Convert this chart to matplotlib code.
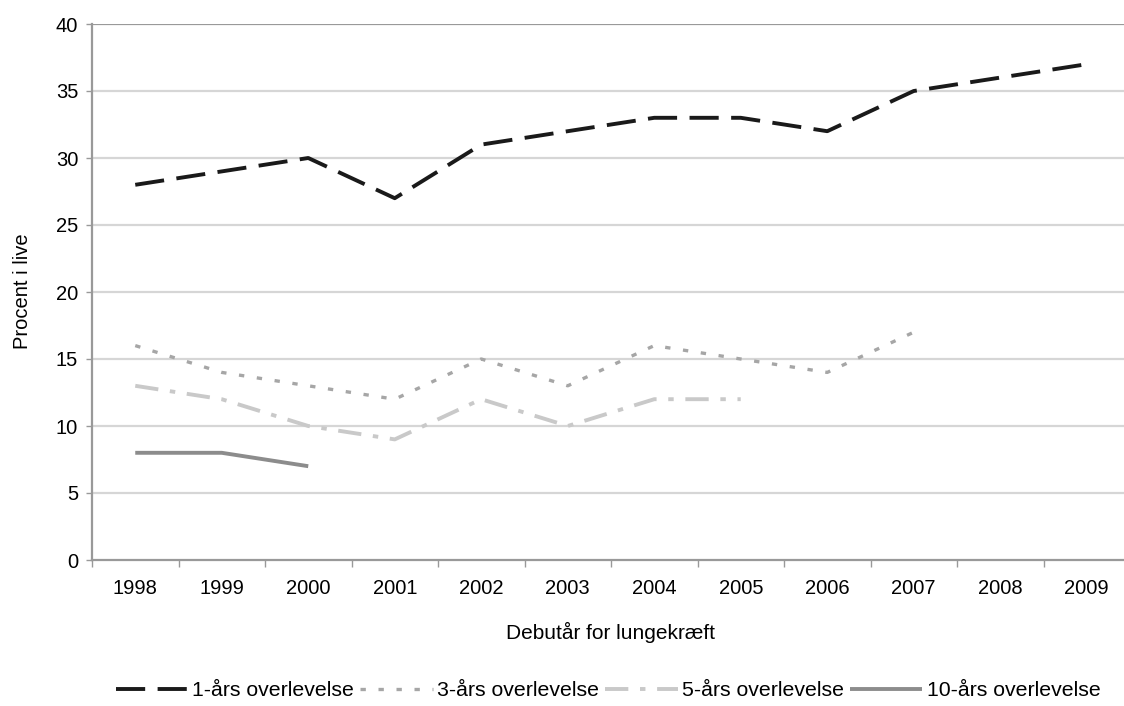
import matplotlib
matplotlib.use("Agg")
import matplotlib.pyplot as plt

plt.rcParams['font.family'] = ['Liberation Sans', 'DejaVu Sans']

years = ['1998', '1999', '2000', '2001', '2002', '2003', '2004', '2005',
         '2006', '2007', '2008', '2009']
surv_1 = [28, 29, 30, 27, 31, 32, 33, 33, 32, 35, 36, 37]
surv_3 = [16, 14, 13, 12, 15, 13, 16, 15, 14, 17]
surv_5 = [13, 12, 10, 9, 12, 10, 12, 12]
surv_10 = [8, 8, 7]
labels = ['1-års overlevelse', '3-års overlevelse', '5-års overlevelse',
          '10-års overlevelse']
y_ticks = [0, 5, 10, 15, 20, 25, 30, 35, 40]

W, H = 1124, 706
fig = plt.figure(figsize=(W / 100, H / 100), dpi=100)
left, right, top, bottom = 92, 1130, 24, 560
ax = fig.add_axes([left / W, 1 - bottom / H, (right - left) / W, (bottom - top) / H])

x = list(range(len(years)))
styles = [
    dict(color='#1a1a1a', lw=2.8, dashes=(7.5, 3.2)),
    dict(color='#a6a6a6', lw=2.4, dashes=(1.6, 3.8)),
    dict(color='#c9c9c9', lw=2.8, dashes=(6, 3, 1.4, 3)),
    dict(color='#8c8c8c', lw=2.8, linestyle='-'),
]
series = [surv_1, surv_3, surv_5, surv_10]
handles = []
for vals, st, lab in zip(series, styles, labels):
    ln, = ax.plot(x[:len(vals)], vals, solid_capstyle='butt',
                  dash_capstyle='butt', label=lab, **st)
    handles.append(ln)

ax.set_xlim(-0.5, len(years) - 0.5)
ax.set_ylim(0, 40)
ax.set_yticks(y_ticks)
ax.set_yticklabels([str(v) for v in y_ticks], fontsize=14.5)
for v in y_ticks[1:-1]:
    ax.axhline(v, color='#d6d6d6', lw=1.6, zorder=0)
ax.axhline(40, color='#999999', lw=1.6, zorder=0)

# category labels centered, tick marks on category boundaries
ax.set_xticks(x)
ax.set_xticklabels(years, fontsize=14.5)
ax.tick_params(axis='x', length=0, pad=14)
ax.set_xticks([i - 0.5 for i in range(len(years) + 1)], minor=True)
ax.tick_params(axis='x', which='minor', length=5, width=1, color='#999999', direction='out')
ax.tick_params(axis='y', length=4, width=1, color='#999999', pad=6)

for side in ['top', 'right']:
    ax.spines[side].set_visible(False)
for side in ['left', 'bottom']:
    ax.spines[side].set_color('#999999')
    ax.spines[side].set_linewidth(1.6)

fig.text(23 / W, 1 - 291 / H, 'Procent i live', rotation=90, ha='center',
         va='center', fontsize=14.5)
fig.text(610 / W, 1 - 632 / H, 'Debutår for lungekræft', ha='center',
         va='center', fontsize=15)

leg = fig.legend(handles=handles, labels=labels, loc='center',
                 bbox_to_anchor=(608 / W, 1 - 691 / H), ncol=4, frameon=False,
                 fontsize=15.3, handlelength=3.4, handletextpad=0.2,
                 columnspacing=0.3, borderaxespad=0)

fig.savefig('out.png', dpi=100, facecolor='white')
